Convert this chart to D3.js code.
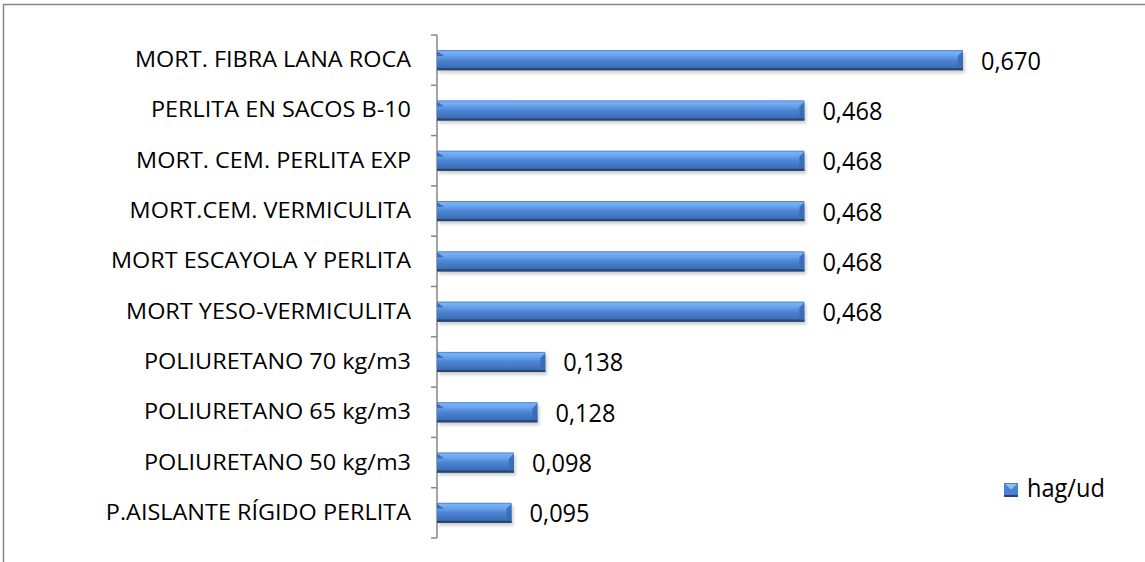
<!DOCTYPE html>
<html>
<head>
<meta charset="utf-8">
<script src="https://cdn.jsdelivr.net/npm/d3@7"></script>
<style>
  html, body { margin: 0; padding: 0; background: #fff; }
  svg { display: block; }
  text { font-family: "Open Sans", "Liberation Sans", sans-serif; fill: #000; }
</style>
</head>
<body>
<svg id="chart" width="1145" height="562"></svg>
<script>
// Materials, listed top to bottom
const categories = [
  "MORT. FIBRA LANA ROCA",
  "PERLITA EN SACOS B-10",
  "MORT. CEM. PERLITA EXP",
  "MORT.CEM. VERMICULITA",
  "MORT ESCAYOLA Y PERLITA",
  "MORT YESO-VERMICULITA",
  "POLIURETANO 70 kg/m3",
  "POLIURETANO 65 kg/m3",
  "POLIURETANO 50 kg/m3",
  "P.AISLANTE RÍGIDO PERLITA"
];
const values = [0.670, 0.468, 0.468, 0.468, 0.468, 0.468, 0.138, 0.128, 0.098, 0.095];
const valueLabels = ["0,670", "0,468", "0,468", "0,468", "0,468", "0,468", "0,138", "0,128", "0,098", "0,095"];
const seriesName = "hag/ud";

const svg = d3.select("#chart");
const W = 1145, H = 562;
const CAT_FONT = 21;
const VAL_FONT = 25;

// Outer chart frame
svg.append("rect")
  .attr("x", 3.5).attr("y", 4.5)
  .attr("width", W + 10).attr("height", H + 10)
  .attr("fill", "none").attr("stroke", "#878787").attr("stroke-width", 1.5);

const x = d3.scaleLinear().domain([0, 0.8]).range([437, 437 + 0.8 * 785]);
const y = d3.scaleBand().domain(categories).range([35, 538]).paddingInner(0.6).paddingOuter(0.3);

const defs = svg.append("defs");
const grad = defs.append("linearGradient").attr("id", "barFill")
  .attr("x1", 0).attr("y1", 0).attr("x2", 0).attr("y2", 1);
[[0, "#3f74c6"], [0.08, "#79b2f5"], [0.28, "#67a2ec"], [0.5, "#4c84d4"], [0.85, "#3d6fb6"], [1, "#2c4e82"]]
  .forEach(([o, c]) => grad.append("stop").attr("offset", o).attr("stop-color", c));

const blur = defs.append("filter").attr("id", "shadow")
  .attr("x", "-5%").attr("y", "-50%").attr("width", "110%").attr("height", "200%");
blur.append("feGaussianBlur").attr("stdDeviation", 1.6);

// Category axis
const axisG = svg.append("g");
axisG.append("line")
  .attr("x1", x(0)).attr("x2", x(0))
  .attr("y1", y.range()[0]).attr("y2", y.range()[1])
  .attr("stroke", "#878787").attr("stroke-width", 1.5);
const step = y.step();
const boundaries = d3.range(categories.length + 1).map(i => y.range()[0] + i * step);
axisG.selectAll("line.tick").data(boundaries).join("line")
  .attr("class", "tick")
  .attr("x1", x(0) - 6).attr("x2", x(0))
  .attr("y1", d => d).attr("y2", d => d)
  .attr("stroke", "#878787").attr("stroke-width", 1.5);

const bw = y.bandwidth();
const bev = 5;

const bars = svg.append("g").selectAll("g").data(categories).join("g")
  .attr("transform", d => `translate(0,${y(d)})`);

// soft drop shadow
bars.append("rect")
  .attr("x", x(0) + 2)
  .attr("y", 3)
  .attr("width", (d, i) => x(values[i]) - x(0))
  .attr("height", bw)
  .attr("fill", "#000").attr("opacity", 0.18)
  .attr("filter", "url(#shadow)");

bars.append("rect")
  .attr("x", x(0))
  .attr("y", 0)
  .attr("width", (d, i) => x(values[i]) - x(0))
  .attr("height", bw)
  .attr("fill", "url(#barFill)");

// bevelled end faces
bars.append("polygon")
  .attr("points", () => {
    const x0 = x(0);
    return `${x0},1 ${x0 + bev + 2},${bev + 1} ${x0},${bev + 1}`;
  })
  .attr("fill", "#3568b0").attr("opacity", 0.9);
bars.append("polygon")
  .attr("points", (d, i) => {
    const x1 = x(values[i]);
    return `${x1},1 ${x1},${bw - 2} ${x1 - bev},${bw - 2} ${x1 - bev},${bev + 1}`;
  })
  .attr("fill", "#3a6cb2").attr("opacity", 0.9);
bars.append("rect")
  .attr("x", x(0))
  .attr("y", bw - 2)
  .attr("width", (d, i) => x(values[i]) - x(0))
  .attr("height", 2)
  .attr("fill", "#26466f");

// value labels
const valText = bars.append("text")
  .attr("font-size", VAL_FONT)
  .text((d, i) => valueLabels[i]);
const valScale = 60 / valText.nodes()[0].getComputedTextLength();
valText.attr("transform", (d, i) => `translate(${x(values[i]) + 18},${bw / 2 + 9.5}) scale(${valScale},1)`);

// category labels
const catText = svg.append("g").selectAll("text").data(categories).join("text")
  .attr("text-anchor", "end")
  .attr("font-size", CAT_FONT)
  .text(d => d);

// narrow the lettering so the longest name spans ~276px
const catScale = 276 / catText.nodes()[0].getComputedTextLength();
catText.attr("transform", d => `translate(411,${y(d) + bw / 2 + 7}) scale(${catScale},1)`);

// legend
const lg = svg.append("g").attr("transform", "translate(1004,483)");
lg.append("rect").attr("width", 14).attr("height", 14).attr("fill", "#4a82d0");
lg.append("polygon").attr("points", "1,1 13,1 7,6.5").attr("fill", "#8cc0f8");
lg.append("rect").attr("y", 12).attr("width", 14).attr("height", 2).attr("fill", "#26466f");
lg.append("text")
  .attr("font-size", VAL_FONT)
  .attr("transform", `translate(23,14) scale(${valScale},1)`)
  .text(seriesName);
</script>
</body>
</html>
